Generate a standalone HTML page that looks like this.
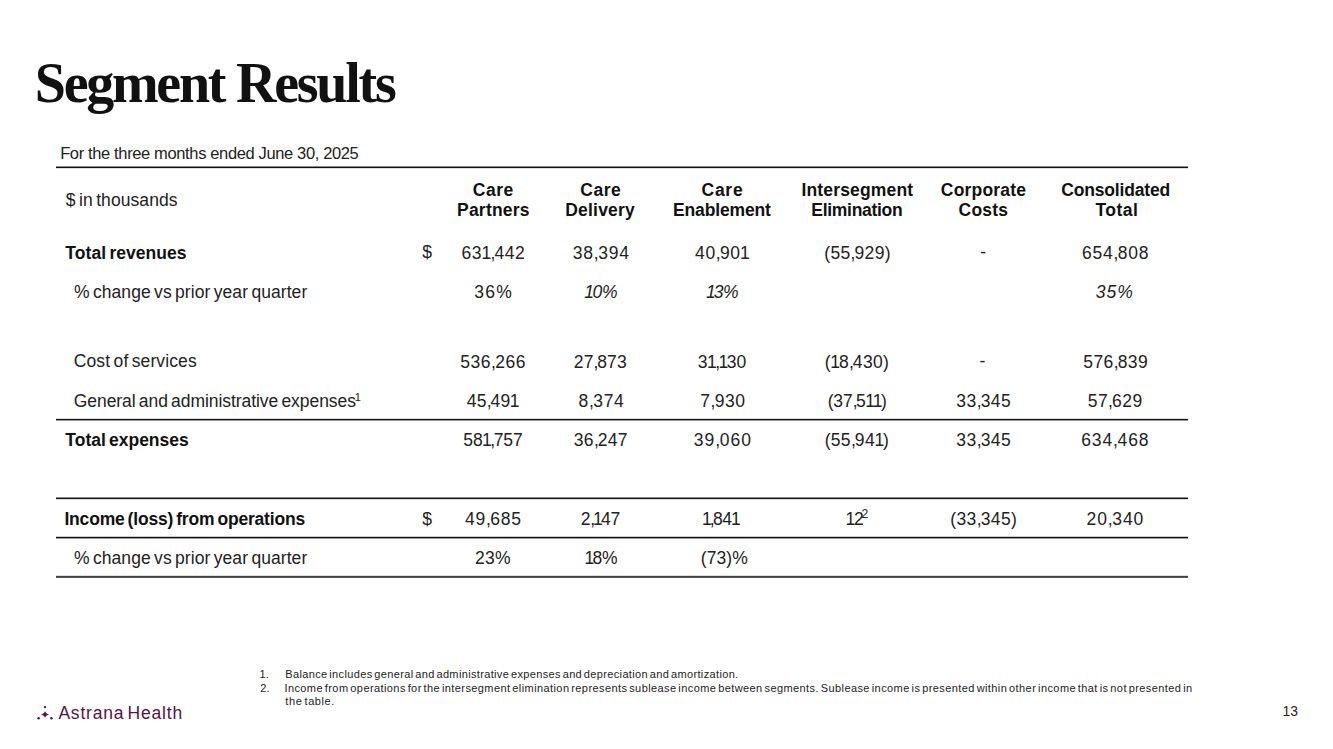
<!DOCTYPE html><html><head><meta charset="utf-8"><title>Segment Results</title><style>
html,body{margin:0;padding:0;background:#fff;}
body{width:1333px;height:749px;position:relative;overflow:hidden;}
.t{position:absolute;white-space:nowrap;line-height:0;}
.ln{position:absolute;background:#1a1a1a;}
</style></head><body>
<div class="t" style="left:34.76px;top:83.10px;font-family:'Liberation Serif', serif;font-size:56px;font-weight:700;font-style:normal;color:#111111;letter-spacing:-2.257px;">Segment Results</div>
<div class="t" style="left:60.16px;top:153.28px;font-family:'Liberation Sans', sans-serif;font-size:16.5px;font-weight:400;font-style:normal;color:#222222;letter-spacing:-0.364px;">For the three months ended June 30, 2025</div>
<div class="t" style="left:472.84px;top:189.54px;font-family:'Liberation Sans', sans-serif;font-size:17.5px;font-weight:700;font-style:normal;color:#111111;letter-spacing:0.500px;">Care</div>
<div class="t" style="left:457.00px;top:209.54px;font-family:'Liberation Sans', sans-serif;font-size:17.5px;font-weight:700;font-style:normal;color:#111111;letter-spacing:0.227px;">Partners</div>
<div class="t" style="left:580.28px;top:189.54px;font-family:'Liberation Sans', sans-serif;font-size:17.5px;font-weight:700;font-style:normal;color:#111111;letter-spacing:0.500px;">Care</div>
<div class="t" style="left:565.16px;top:209.54px;font-family:'Liberation Sans', sans-serif;font-size:17.5px;font-weight:700;font-style:normal;color:#111111;letter-spacing:0.225px;">Delivery</div>
<div class="t" style="left:701.50px;top:189.54px;font-family:'Liberation Sans', sans-serif;font-size:17.5px;font-weight:700;font-style:normal;color:#111111;letter-spacing:0.740px;">Care</div>
<div class="t" style="left:673.00px;top:209.54px;font-family:'Liberation Sans', sans-serif;font-size:17.5px;font-weight:700;font-style:normal;color:#111111;letter-spacing:-0.140px;">Enablement</div>
<div class="t" style="left:801.44px;top:189.54px;font-family:'Liberation Sans', sans-serif;font-size:17.5px;font-weight:700;font-style:normal;color:#111111;letter-spacing:0.167px;">Intersegment</div>
<div class="t" style="left:811.28px;top:209.54px;font-family:'Liberation Sans', sans-serif;font-size:17.5px;font-weight:700;font-style:normal;color:#111111;letter-spacing:-0.286px;">Elimination</div>
<div class="t" style="left:940.84px;top:189.54px;font-family:'Liberation Sans', sans-serif;font-size:17.5px;font-weight:700;font-style:normal;color:#111111;letter-spacing:0.200px;">Corporate</div>
<div class="t" style="left:958.50px;top:209.54px;font-family:'Liberation Sans', sans-serif;font-size:17.5px;font-weight:700;font-style:normal;color:#111111;letter-spacing:0.245px;">Costs</div>
<div class="t" style="left:1061.34px;top:189.54px;font-family:'Liberation Sans', sans-serif;font-size:17.5px;font-weight:700;font-style:normal;color:#111111;letter-spacing:-0.180px;">Consolidated</div>
<div class="t" style="left:1095.46px;top:209.54px;font-family:'Liberation Sans', sans-serif;font-size:17.5px;font-weight:700;font-style:normal;color:#111111;letter-spacing:0.464px;">Total</div>
<div class="t" style="left:65.84px;top:199.64px;font-family:'Liberation Sans', sans-serif;font-size:17.5px;font-weight:400;font-style:normal;color:#222222;letter-spacing:0.084px;word-spacing:-1.6px;">$ in thousands</div>
<div class="t" style="left:65.34px;top:253.44px;font-family:'Liberation Sans', sans-serif;font-size:17.5px;font-weight:700;font-style:normal;color:#111111;letter-spacing:0.049px;word-spacing:-1.6px;">Total revenues</div>
<div class="t" style="left:422.34px;top:252.44px;font-family:'Liberation Sans', sans-serif;font-size:17.5px;font-weight:400;font-style:normal;color:#222222;letter-spacing:0.000px;">$</div>
<div class="t" style="left:461.50px;top:253.44px;font-family:'Liberation Sans', sans-serif;font-size:17.5px;font-weight:400;font-style:normal;color:#222222;letter-spacing:0.550px;">63<span style="margin-left:-0.5px;letter-spacing:-0.950px">1</span><span style="letter-spacing:-0.750px">,</span>442</div>
<div class="t" style="left:572.78px;top:253.44px;font-family:'Liberation Sans', sans-serif;font-size:17.5px;font-weight:400;font-style:normal;color:#222222;letter-spacing:0.790px;">38<span style="letter-spacing:-0.510px">,</span>394</div>
<div class="t" style="left:695.06px;top:253.44px;font-family:'Liberation Sans', sans-serif;font-size:17.5px;font-weight:400;font-style:normal;color:#222222;letter-spacing:0.610px;">40<span style="letter-spacing:-0.690px">,</span>90<span style="margin-left:-0.5px;letter-spacing:-0.890px">1</span></div>
<div class="t" style="left:824.22px;top:253.44px;font-family:'Liberation Sans', sans-serif;font-size:17.5px;font-weight:400;font-style:normal;color:#222222;letter-spacing:0.352px;">(55<span style="letter-spacing:-0.948px">,</span>929)</div>
<div class="t" style="left:980.34px;top:252.44px;font-family:'Liberation Sans', sans-serif;font-size:17.5px;font-weight:400;font-style:normal;color:#222222;letter-spacing:0.250px;">-</div>
<div class="t" style="left:1082.00px;top:253.44px;font-family:'Liberation Sans', sans-serif;font-size:17.5px;font-weight:400;font-style:normal;color:#222222;letter-spacing:0.760px;">654<span style="letter-spacing:-0.540px">,</span>808</div>
<div class="t" style="left:74.00px;top:291.64px;font-family:'Liberation Sans', sans-serif;font-size:17.5px;font-weight:400;font-style:normal;color:#222222;letter-spacing:0.067px;word-spacing:-1.6px;">% change vs prior year quarter</div>
<div class="t" style="left:474.28px;top:291.64px;font-family:'Liberation Sans', sans-serif;font-size:17.5px;font-weight:400;font-style:normal;color:#222222;letter-spacing:1.240px;">36%</div>
<div class="t" style="left:584.68px;top:291.64px;font-family:'Liberation Sans', sans-serif;font-size:17.5px;font-weight:400;font-style:italic;color:#222222;letter-spacing:-0.020px;"><span style="margin-left:-0.5px;letter-spacing:-1.520px">1</span>0%</div>
<div class="t" style="left:706.46px;top:291.64px;font-family:'Liberation Sans', sans-serif;font-size:17.5px;font-weight:400;font-style:italic;color:#222222;letter-spacing:-0.470px;"><span style="margin-left:-0.5px;letter-spacing:-1.970px">1</span>3%</div>
<div class="t" style="left:1095.78px;top:291.64px;font-family:'Liberation Sans', sans-serif;font-size:17.5px;font-weight:400;font-style:italic;color:#222222;letter-spacing:0.970px;">35%</div>
<div class="t" style="left:73.78px;top:360.64px;font-family:'Liberation Sans', sans-serif;font-size:17.5px;font-weight:400;font-style:normal;color:#222222;letter-spacing:0.108px;word-spacing:-1.6px;">Cost of services</div>
<div class="t" style="left:460.34px;top:361.64px;font-family:'Liberation Sans', sans-serif;font-size:17.5px;font-weight:400;font-style:normal;color:#222222;letter-spacing:0.520px;">536<span style="letter-spacing:-0.780px">,</span>266</div>
<div class="t" style="left:573.78px;top:361.64px;font-family:'Liberation Sans', sans-serif;font-size:17.5px;font-weight:400;font-style:normal;color:#222222;letter-spacing:0.142px;">27<span style="letter-spacing:-1.158px">,</span>873</div>
<div class="t" style="left:697.72px;top:361.64px;font-family:'Liberation Sans', sans-serif;font-size:17.5px;font-weight:400;font-style:normal;color:#222222;letter-spacing:0.070px;">3<span style="margin-left:-0.5px;letter-spacing:-1.430px">1</span><span style="letter-spacing:-1.230px">,</span><span style="margin-left:-0.5px;letter-spacing:-1.430px">1</span>30</div>
<div class="t" style="left:824.66px;top:361.64px;font-family:'Liberation Sans', sans-serif;font-size:17.5px;font-weight:400;font-style:normal;color:#222222;letter-spacing:0.328px;">(<span style="margin-left:-0.5px;letter-spacing:-1.172px">1</span>8<span style="letter-spacing:-0.972px">,</span>430)</div>
<div class="t" style="left:979.50px;top:360.64px;font-family:'Liberation Sans', sans-serif;font-size:17.5px;font-weight:400;font-style:normal;color:#222222;letter-spacing:0.250px;">-</div>
<div class="t" style="left:1083.34px;top:361.64px;font-family:'Liberation Sans', sans-serif;font-size:17.5px;font-weight:400;font-style:normal;color:#222222;letter-spacing:0.400px;">576<span style="letter-spacing:-0.900px">,</span>839</div>
<div class="t" style="left:73.78px;top:400.64px;font-family:'Liberation Sans', sans-serif;font-size:17.5px;font-weight:400;font-style:normal;color:#222222;letter-spacing:-0.057px;word-spacing:-1.6px;">General and administrative expenses</div>
<div class="t" style="left:466.78px;top:400.64px;font-family:'Liberation Sans', sans-serif;font-size:17.5px;font-weight:400;font-style:normal;color:#222222;letter-spacing:0.214px;">45<span style="letter-spacing:-1.086px">,</span>49<span style="margin-left:-0.5px;letter-spacing:-1.286px">1</span></div>
<div class="t" style="left:578.56px;top:400.64px;font-family:'Liberation Sans', sans-serif;font-size:17.5px;font-weight:400;font-style:normal;color:#222222;letter-spacing:0.700px;">8<span style="letter-spacing:-0.600px">,</span>374</div>
<div class="t" style="left:700.34px;top:400.64px;font-family:'Liberation Sans', sans-serif;font-size:17.5px;font-weight:400;font-style:normal;color:#222222;letter-spacing:0.520px;">7<span style="letter-spacing:-0.780px">,</span>930</div>
<div class="t" style="left:827.66px;top:400.64px;font-family:'Liberation Sans', sans-serif;font-size:17.5px;font-weight:400;font-style:normal;color:#222222;letter-spacing:-0.112px;">(37<span style="letter-spacing:-1.412px">,</span>5<span style="margin-left:-0.5px;letter-spacing:-1.612px">1</span><span style="margin-left:-0.5px;letter-spacing:-1.612px">1</span>)</div>
<div class="t" style="left:956.34px;top:400.64px;font-family:'Liberation Sans', sans-serif;font-size:17.5px;font-weight:400;font-style:normal;color:#222222;letter-spacing:0.430px;">33<span style="letter-spacing:-0.870px">,</span>345</div>
<div class="t" style="left:1087.78px;top:400.64px;font-family:'Liberation Sans', sans-serif;font-size:17.5px;font-weight:400;font-style:normal;color:#222222;letter-spacing:0.430px;">57<span style="letter-spacing:-0.870px">,</span>629</div>
<div class="t" style="left:65.34px;top:440.24px;font-family:'Liberation Sans', sans-serif;font-size:17.5px;font-weight:700;font-style:normal;color:#111111;letter-spacing:-0.011px;word-spacing:-1.6px;">Total expenses</div>
<div class="t" style="left:463.34px;top:440.24px;font-family:'Liberation Sans', sans-serif;font-size:17.5px;font-weight:400;font-style:normal;color:#222222;letter-spacing:-0.110px;">58<span style="margin-left:-0.5px;letter-spacing:-1.610px">1</span><span style="letter-spacing:-1.410px">,</span>757</div>
<div class="t" style="left:573.78px;top:440.24px;font-family:'Liberation Sans', sans-serif;font-size:17.5px;font-weight:400;font-style:normal;color:#222222;letter-spacing:0.322px;">36<span style="letter-spacing:-0.978px">,</span>247</div>
<div class="t" style="left:693.78px;top:440.24px;font-family:'Liberation Sans', sans-serif;font-size:17.5px;font-weight:400;font-style:normal;color:#222222;letter-spacing:1.006px;">39<span style="letter-spacing:-0.294px">,</span>060</div>
<div class="t" style="left:824.66px;top:440.24px;font-family:'Liberation Sans', sans-serif;font-size:17.5px;font-weight:400;font-style:normal;color:#222222;letter-spacing:0.328px;">(55<span style="letter-spacing:-0.972px">,</span>94<span style="margin-left:-0.5px;letter-spacing:-1.172px">1</span>)</div>
<div class="t" style="left:956.34px;top:440.24px;font-family:'Liberation Sans', sans-serif;font-size:17.5px;font-weight:400;font-style:normal;color:#222222;letter-spacing:0.430px;">33<span style="letter-spacing:-0.870px">,</span>345</div>
<div class="t" style="left:1081.22px;top:440.24px;font-family:'Liberation Sans', sans-serif;font-size:17.5px;font-weight:400;font-style:normal;color:#222222;letter-spacing:0.880px;">634<span style="letter-spacing:-0.420px">,</span>468</div>
<div class="t" style="left:64.44px;top:518.54px;font-family:'Liberation Sans', sans-serif;font-size:17.5px;font-weight:700;font-style:normal;color:#111111;letter-spacing:-0.192px;word-spacing:-1.6px;">Income (loss) from operations</div>
<div class="t" style="left:422.34px;top:518.54px;font-family:'Liberation Sans', sans-serif;font-size:17.5px;font-weight:400;font-style:normal;color:#222222;letter-spacing:0.000px;">$</div>
<div class="t" style="left:465.06px;top:518.54px;font-family:'Liberation Sans', sans-serif;font-size:17.5px;font-weight:400;font-style:normal;color:#222222;letter-spacing:0.718px;">49<span style="letter-spacing:-0.582px">,</span>685</div>
<div class="t" style="left:580.72px;top:518.54px;font-family:'Liberation Sans', sans-serif;font-size:17.5px;font-weight:400;font-style:normal;color:#222222;letter-spacing:-0.245px;">2<span style="letter-spacing:-1.545px">,</span><span style="margin-left:-0.5px;letter-spacing:-1.745px">1</span>47</div>
<div class="t" style="left:702.50px;top:518.54px;font-family:'Liberation Sans', sans-serif;font-size:17.5px;font-weight:400;font-style:normal;color:#222222;letter-spacing:-0.426px;"><span style="margin-left:-0.5px;letter-spacing:-1.926px">1</span><span style="letter-spacing:-1.726px">,</span>84<span style="margin-left:-0.5px;letter-spacing:-1.926px">1</span></div>
<div class="t" style="left:846.06px;top:518.54px;font-family:'Liberation Sans', sans-serif;font-size:17.5px;font-weight:400;font-style:normal;color:#222222;letter-spacing:0.250px;"><span style="margin-left:-0.5px;letter-spacing:-1.250px">1</span>2</div>
<div class="t" style="left:950.28px;top:518.54px;font-family:'Liberation Sans', sans-serif;font-size:17.5px;font-weight:400;font-style:normal;color:#222222;letter-spacing:0.378px;">(33<span style="letter-spacing:-0.922px">,</span>345)</div>
<div class="t" style="left:1086.56px;top:518.54px;font-family:'Liberation Sans', sans-serif;font-size:17.5px;font-weight:400;font-style:normal;color:#222222;letter-spacing:0.898px;">20<span style="letter-spacing:-0.402px">,</span>340</div>
<div class="t" style="left:74.00px;top:558.34px;font-family:'Liberation Sans', sans-serif;font-size:17.5px;font-weight:400;font-style:normal;color:#222222;letter-spacing:0.067px;word-spacing:-1.6px;">% change vs prior year quarter</div>
<div class="t" style="left:475.06px;top:558.34px;font-family:'Liberation Sans', sans-serif;font-size:17.5px;font-weight:400;font-style:normal;color:#222222;letter-spacing:0.250px;">23%</div>
<div class="t" style="left:585.00px;top:558.34px;font-family:'Liberation Sans', sans-serif;font-size:17.5px;font-weight:400;font-style:normal;color:#222222;letter-spacing:-0.200px;"><span style="margin-left:-0.5px;letter-spacing:-1.700px">1</span>8%</div>
<div class="t" style="left:700.78px;top:558.34px;font-family:'Liberation Sans', sans-serif;font-size:17.5px;font-weight:400;font-style:normal;color:#222222;letter-spacing:0.070px;">(73)%</div>
<div class="t" style="left:259.44px;top:673.99px;font-family:'Liberation Sans', sans-serif;font-size:11.0px;font-weight:400;font-style:normal;color:#222222;letter-spacing:0.100px;">1.</div>
<div class="t" style="left:260.34px;top:687.69px;font-family:'Liberation Sans', sans-serif;font-size:11.0px;font-weight:400;font-style:normal;color:#222222;letter-spacing:0.100px;">2.</div>
<div class="t" style="left:285.34px;top:673.99px;font-family:'Liberation Sans', sans-serif;font-size:11.0px;font-weight:400;font-style:normal;color:#222222;letter-spacing:0.349px;word-spacing:-1.6px;">Balance includes general and administrative expenses and depreciation and amortization.</div>
<div class="t" style="left:284.44px;top:687.69px;font-family:'Liberation Sans', sans-serif;font-size:11.0px;font-weight:400;font-style:normal;color:#222222;letter-spacing:0.409px;word-spacing:-1.6px;">Income from operations for the intersegment elimination represents sublease income between segments. Sublease income is presented within other income that is not presented in</div>
<div class="t" style="left:285.34px;top:700.99px;font-family:'Liberation Sans', sans-serif;font-size:11.0px;font-weight:400;font-style:normal;color:#222222;letter-spacing:0.600px;word-spacing:-1.6px;">the table.</div>
<div class="t" style="left:1282.50px;top:712.12px;font-family:'Liberation Sans', sans-serif;font-size:13.8px;font-weight:400;font-style:normal;color:#222222;letter-spacing:0.000px;">13</div>
<div class="t" style="left:58.40px;top:712.94px;font-family:'Liberation Sans', sans-serif;font-size:17.5px;font-weight:400;font-style:normal;color:#5b1243;letter-spacing:0.810px;word-spacing:-2.5px;">Astrana Health</div>
<div class="t" style="left:354.66px;top:396.99px;font-family:'Liberation Sans', sans-serif;font-size:11px;font-weight:400;font-style:normal;color:#222222;letter-spacing:0.000px;">1</div>
<div class="t" style="left:861.52px;top:513.57px;font-family:'Liberation Sans', sans-serif;font-size:12.2px;font-weight:400;font-style:normal;color:#222222;letter-spacing:0.000px;">2</div>
<div class="ln" style="left:56px;top:166px;width:1132px;height:1px;background:#8a8a8a"></div>
<div class="ln" style="left:56px;top:167px;width:1132px;height:1px;background:#111"></div>
<div class="ln" style="left:56px;top:168px;width:1132px;height:1px;background:#dedede"></div>
<div class="ln" style="left:56px;top:418px;width:1132px;height:1px;background:#dedede"></div>
<div class="ln" style="left:56px;top:419px;width:1132px;height:1px;background:#111"></div>
<div class="ln" style="left:56px;top:420px;width:1132px;height:1px;background:#9a9a9a"></div>
<div class="ln" style="left:56px;top:497px;width:1132px;height:1px;background:#8a8a8a"></div>
<div class="ln" style="left:56px;top:498px;width:1132px;height:1px;background:#111"></div>
<div class="ln" style="left:56px;top:499px;width:1132px;height:1px;background:#dedede"></div>
<div class="ln" style="left:56px;top:536px;width:1132px;height:1px;background:#cccccc"></div>
<div class="ln" style="left:56px;top:537px;width:1132px;height:1px;background:#111"></div>
<div class="ln" style="left:56px;top:538px;width:1132px;height:1px;background:#9a9a9a"></div>
<div class="ln" style="left:56px;top:575px;width:1132px;height:1px;background:#dedede"></div>
<div class="ln" style="left:56px;top:576px;width:1132px;height:1px;background:#444"></div>
<div class="ln" style="left:56px;top:577px;width:1132px;height:1px;background:#555"></div>
<svg style="position:absolute;left:0;top:0" width="120" height="749" viewBox="0 0 120 749">
<g fill="#5b1243">
<circle cx="45.0" cy="707.1" r="1.2"/>
<circle cx="38.6" cy="718.2" r="1.25"/>
<circle cx="51.4" cy="718.2" r="1.25"/>
<path d="M45.0 710.9 Q45.7 713.8 49.1 714.5 Q45.7 715.2 45.0 718.1 Q44.3 715.2 40.9 714.5 Q44.3 713.8 45.0 710.9 Z"/>
</g></svg>
</body></html>
